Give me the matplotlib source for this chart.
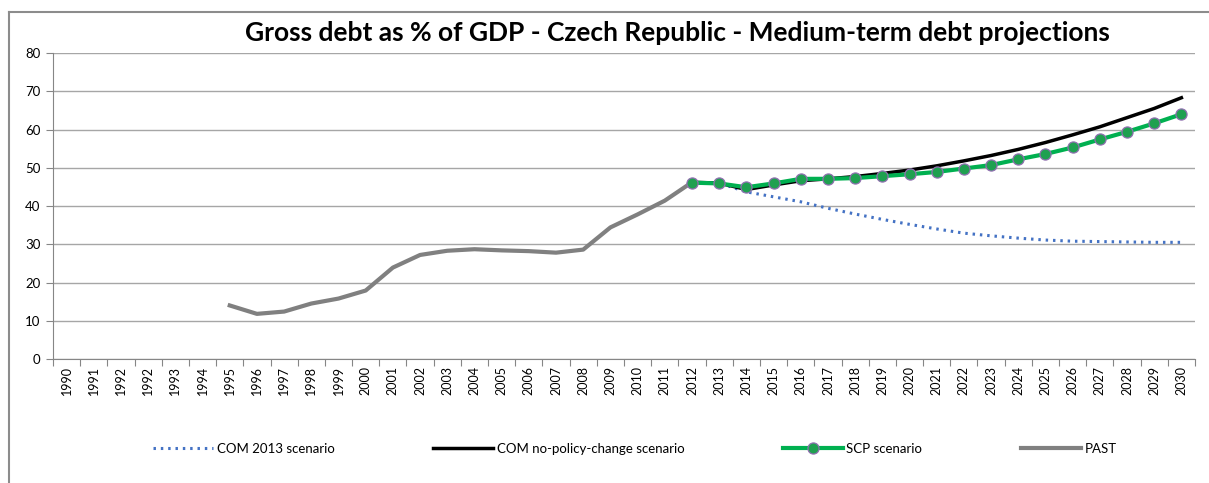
import numpy as np
import matplotlib
matplotlib.use("Agg")
import matplotlib.pyplot as plt
from matplotlib.lines import Line2D

plt.rcParams['font.family'] = ['Lato', 'DejaVu Sans']

# category labels (the source repeats 1992)
years = ['1990', '1991', '1992', '1992', '1993', '1994'] + [str(y) for y in range(1995, 2031)]
nan = np.nan

# PAST: 1995 .. 2012
past = [nan] * 6 + [14.0, 11.8, 12.4, 14.5, 15.8, 17.9, 23.9, 27.2, 28.3, 28.7,
                    28.4, 28.2, 27.8, 28.6, 34.4, 37.8, 41.4, 46.2] + [nan] * 18
# projections: 2012 .. 2030
com2013 = [nan] * 23 + [46.2, 46.0, 43.7, 42.4, 41.1, 39.4, 37.9, 36.5, 35.2, 34.0,
                        32.9, 32.2, 31.6, 31.1, 30.8, 30.7, 30.6, 30.5, 30.5]
com_npc = [nan] * 23 + [46.2, 46.0, 44.3, 45.5, 46.6, 47.1, 47.7, 48.5, 49.4, 50.5,
                        51.8, 53.2, 54.8, 56.6, 58.6, 60.7, 63.1, 65.5, 68.3]
scp = [nan] * 23 + [46.1, 45.9, 44.9, 45.9, 47.1, 47.1, 47.3, 47.8, 48.3, 48.9,
                    49.8, 50.7, 52.2, 53.6, 55.3, 57.4, 59.4, 61.6, 64.0]

x = np.arange(len(years))

fig = plt.figure(figsize=(12.09, 4.83), dpi=100)
ax = fig.add_axes([53 / 1209, 1 - 359 / 483, (1195 - 53) / 1209, (359 - 53) / 483])

ax.plot(x, com2013, color='#4472C4', lw=2.2, linestyle=(0, (0.8, 1.6)), label='COM 2013 scenario', zorder=3)
ax.plot(x, com_npc, color='black', lw=2.5, label='COM no-policy-change scenario', zorder=4)
ax.plot(x, scp, color='#00B050', lw=3, marker='o', markersize=8, markerfacecolor='#1FA050',
        markeredgecolor='#9070B0', markeredgewidth=0.9, label='SCP scenario', zorder=5)
ax.plot(x, past, color='#808080', lw=3, label='PAST', zorder=3)

ax.set_ylim(0, 80)
ax.set_yticks(range(0, 81, 10))
ax.set_xlim(-0.5, len(years) - 0.5)
ax.set_xticks(np.arange(-0.5, len(years), 1))
ax.set_xticklabels([])
ax.set_xticks(x, minor=True)
ax.set_xticklabels(years, minor=True, rotation=90, fontsize=9)
ax.tick_params(axis='x', which='major', length=5, color='#868686')
ax.tick_params(axis='x', which='minor', length=0, pad=5)
ax.tick_params(axis='y', length=5, color='#868686', labelsize=9.5, pad=4)

ax.grid(axis='y', color='#A6A6A6', lw=1)
ax.set_axisbelow(True)
for s in ['top', 'right']:
    ax.spines[s].set_visible(False)
for s in ['left', 'bottom']:
    ax.spines[s].set_color('#868686')

fig.text(677 / 1209, 1 - 33 / 483, 'Gross debt as % of GDP - Czech Republic - Medium-term debt projections',
         ha='center', va='center', fontsize=19, fontweight='bold')

fig.legend(loc='center', bbox_to_anchor=(635 / 1209, 1 - 449 / 483), ncol=4, frameon=False,
           fontsize=9.5, handlelength=4.5, columnspacing=7.5, handletextpad=0.3)

# chart frame
fig.add_artist(Line2D([9 / 1209, 9 / 1209], [0, 1 - 12 / 483], transform=fig.transFigure, color='#8C8C8C', lw=1.5))
fig.add_artist(Line2D([9 / 1209, 1], [1 - 12 / 483, 1 - 12 / 483], transform=fig.transFigure, color='#8C8C8C', lw=1.5))

fig.savefig('out.png', dpi=100)
